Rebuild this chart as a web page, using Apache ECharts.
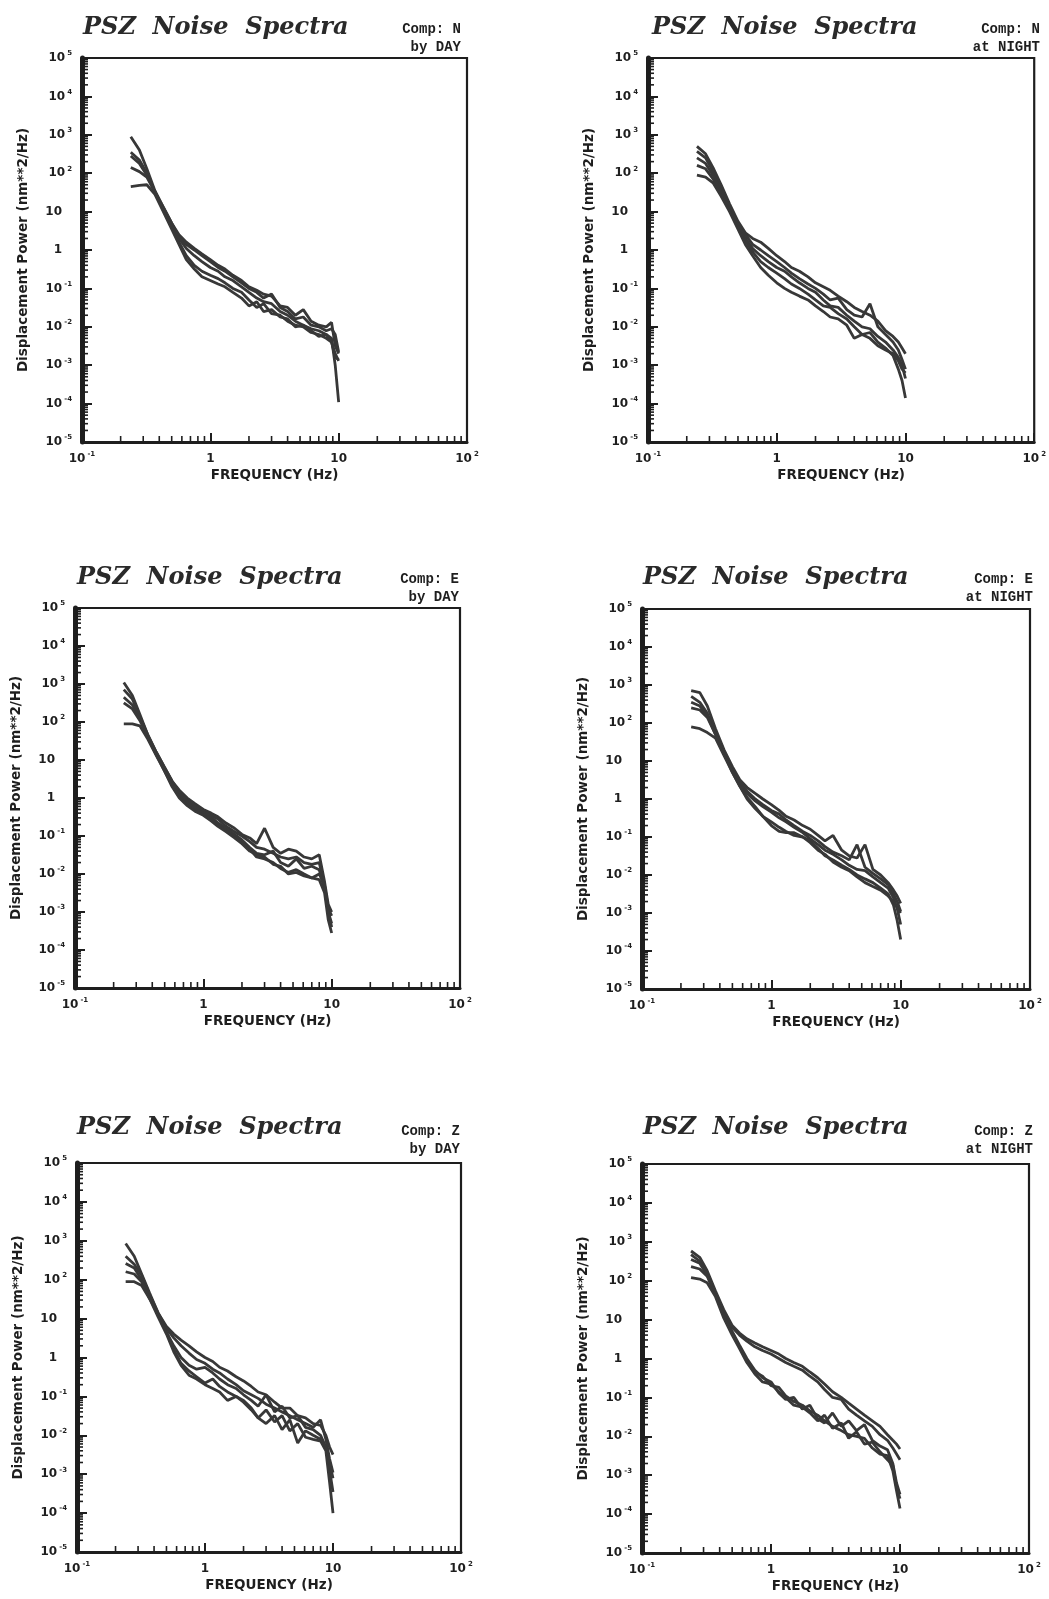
<!DOCTYPE html>
<html><head><meta charset="utf-8">
<script src="https://cdn.jsdelivr.net/npm/echarts@6/dist/echarts.min.js"></script>
<style>html,body{margin:0;padding:0;background:#fff}#c{width:1049px;height:1599px}</style>
</head><body><div id="c"></div>
<script>
// ---------------- DATA ----------------
const freq = [0.24, 0.28, 0.32, 0.37, 0.43, 0.5, 0.57, 0.65, 0.75, 0.86, 1.0, 1.15, 1.3, 1.5, 1.75, 2.0, 2.3, 2.6, 3.0, 3.5, 4.0, 4.6, 5.3, 6.1, 7.0, 8.0, 8.8, 9.4, 10];

const nDay = [
  [8.9e2,4e2,1.3e2,35,13,5,2.5,1.6,1.1,7.9e-1,5.6e-1,4e-1,3.2e-1,2.2e-1,1.6e-1,1.1e-1,8.9e-2,7.1e-2,6.3e-2,3.5e-2,3.2e-2,2e-2,2.8e-2,1.4e-2,1.1e-2,1e-2,1.3e-2,3.2e-3,2e-3],
  [3.5e2,2.2e2,1e2,32,13,5,2.2,1.4,1,7.1e-1,5e-1,3.5e-1,2.8e-1,2e-1,1.4e-1,1e-1,7.9e-2,5.6e-2,7.1e-2,3.2e-2,2.5e-2,1.6e-2,1.8e-2,1.1e-2,1e-2,7.9e-3,8.9e-3,6.3e-3,2.2e-3],
  [2.8e2,1.8e2,89,32,11,4.5,2,1.1,7.1e-1,5e-1,3.5e-1,2.8e-1,2e-1,1.6e-1,1.1e-1,7.9e-2,5.6e-2,4.5e-2,4e-2,2.5e-2,2e-2,1.4e-2,1.1e-2,8.9e-3,7.9e-3,6.3e-3,5e-3,1e-3,1.1e-4],
  [1.4e2,1.1e2,79,32,11,4,1.6,7.1e-1,4e-1,2.8e-1,2.2e-1,1.8e-1,1.4e-1,1e-1,7.9e-2,5e-2,3.2e-2,4e-2,2.2e-2,2e-2,1.4e-2,1.1e-2,1e-2,7.1e-3,6.3e-3,5e-3,4e-3,2e-3,1.3e-3],
  [45,48,50,28,10,3.5,1.4,5.6e-1,3.2e-1,2e-1,1.6e-1,1.3e-1,1.1e-1,7.9e-2,5.6e-2,3.5e-2,4.5e-2,2.5e-2,2.8e-2,1.8e-2,1.6e-2,1e-2,1.1e-2,7.9e-3,5.6e-3,6.3e-3,4e-3,1.6e-3,1.4e-3]
];
const nNight = [
  [5e2,3.2e2,1.4e2,50,16,5.6,2.8,2,1.6,1.1,7.1e-1,5e-1,3.5e-1,2.8e-1,2e-1,1.4e-1,1.1e-1,8.9e-2,6.3e-2,4.5e-2,3.2e-2,2.5e-2,2e-2,1.4e-2,7.9e-3,5.6e-3,4e-3,2.8e-3,2e-3],
  [3.7e2,2.5e2,1.1e2,45,14,5,2.5,1.4,1,7.1e-1,5e-1,3.5e-1,2.5e-1,1.8e-1,1.3e-1,1e-1,7.1e-2,5e-2,5.6e-2,2.8e-2,2e-2,1.8e-2,4e-2,1e-2,6.3e-3,4e-3,2.5e-3,1.4e-3,7.9e-4],
  [2.5e2,1.8e2,89,35,13,4.5,2,1.1,7.1e-1,5e-1,3.5e-1,2.8e-1,2e-1,1.4e-1,1e-1,7.9e-2,5e-2,3.5e-2,3.2e-2,2e-2,1.4e-2,1e-2,8.9e-3,5.6e-3,4e-3,2.5e-3,1.6e-3,1e-3,4.5e-4],
  [1.6e2,1.3e2,71,32,11,4,1.8,8.9e-1,5e-1,3.5e-1,2.5e-1,1.8e-1,1.3e-1,1e-1,7.1e-2,5e-2,3.5e-2,3.2e-2,2.2e-2,1.6e-2,1e-2,6.3e-3,7.1e-3,4e-3,2.8e-3,1.8e-3,7.9e-4,4e-4,1.4e-4],
  [89,79,56,25,10,3.5,1.4,7.1e-1,3.5e-1,2.2e-1,1.4e-1,1e-1,7.9e-2,6.3e-2,5e-2,3.5e-2,2.5e-2,1.8e-2,1.6e-2,1.1e-2,5e-3,6.3e-3,5e-3,3.2e-3,2.5e-3,2e-3,1.3e-3,7.9e-4,6.3e-4]
];
const eDay = [
  [1.1e3,5e2,1.6e2,45,16,6.3,2.8,1.6,1,7.1e-1,5e-1,4e-1,3.2e-1,2.2e-1,1.6e-1,1.1e-1,8.9e-2,6.3e-2,1.6e-1,5e-2,3.5e-2,4.5e-2,4e-2,2.8e-2,2.5e-2,3.2e-2,6.3e-3,1.6e-3,1e-3],
  [7.1e2,4e2,1.4e2,45,16,6.3,2.8,1.4,8.9e-1,6.3e-1,4.5e-1,3.5e-1,2.8e-1,1.8e-1,1.3e-1,1e-1,7.1e-2,5e-2,4.5e-2,3.5e-2,2.8e-2,2.5e-2,2.8e-2,2e-2,1.8e-2,2e-2,5e-3,1.3e-3,7.9e-4],
  [4.5e2,2.8e2,1.3e2,40,14,5.6,2.5,1.3,7.9e-1,5.6e-1,4.5e-1,3.2e-1,2.2e-1,1.6e-1,1.1e-1,7.9e-2,5e-2,3.5e-2,3.2e-2,4e-2,2e-2,1.6e-2,2.5e-2,1.4e-2,1.6e-2,1.3e-2,4e-3,1e-3,4e-4],
  [3.2e2,2.2e2,1.1e2,40,14,5,2.2,1.1,7.1e-1,5e-1,4e-1,2.8e-1,2e-1,1.4e-1,1e-1,7.1e-2,4.5e-2,2.8e-2,2.5e-2,2e-2,1.4e-2,1.1e-2,1.3e-2,1e-2,7.9e-3,7.1e-3,3.2e-3,6.3e-4,2.8e-4],
  [89,89,79,35,13,5,2,1,6.3e-1,4.5e-1,3.5e-1,2.5e-1,1.8e-1,1.3e-1,8.9e-2,6.3e-2,4e-2,3.2e-2,2.8e-2,1.8e-2,1.6e-2,1e-2,1.1e-2,8.9e-3,7.9e-3,1e-2,5e-3,1e-3,5e-4]
];
const eNight = [
  [7.1e2,6.3e2,2.8e2,71,20,7.1,3.2,2,1.4,1,7.1e-1,5e-1,3.5e-1,2.8e-1,2e-1,1.6e-1,1.1e-1,7.9e-2,1.1e-1,4.5e-2,3.2e-2,2.8e-2,6.3e-2,1.4e-2,1e-2,6.3e-3,4e-3,2.8e-3,1.8e-3],
  [5e2,3.5e2,1.8e2,56,18,6.3,2.8,1.6,1,7.1e-1,5e-1,4e-1,2.8e-1,2e-1,1.4e-1,1.1e-1,7.9e-2,5.6e-2,4e-2,3.2e-2,2.5e-2,6.3e-2,1.6e-2,1.1e-2,7.9e-3,5.6e-3,3.2e-3,2e-3,1.1e-3],
  [3.5e2,2.8e2,1.6e2,50,16,5.6,2.5,1.4,8.9e-1,6.3e-1,4.5e-1,3.2e-1,2.5e-1,1.8e-1,1.3e-1,8.9e-2,6.3e-2,4.5e-2,3.5e-2,2.5e-2,1.8e-2,1.4e-2,1.3e-2,8.9e-3,6.3e-3,4.5e-3,2.5e-3,1.3e-3,5e-4],
  [2.5e2,2.2e2,1.4e2,50,16,5,2.2,1.1,6.3e-1,3.5e-1,2.5e-1,1.8e-1,1.4e-1,1.1e-1,1e-1,7.9e-2,5e-2,3.2e-2,2.5e-2,1.8e-2,1.4e-2,1e-2,7.9e-3,6.3e-3,4.5e-3,3.2e-3,1.6e-3,6.3e-4,2e-4],
  [79,71,56,40,14,5,2.2,1,5.6e-1,3.5e-1,2e-1,1.4e-1,1.3e-1,1.3e-1,1e-1,7.1e-2,4.5e-2,3.5e-2,2.2e-2,1.6e-2,1.3e-2,8.9e-3,6.3e-3,5e-3,4e-3,2.8e-3,2e-3,1.4e-3,1e-3]
];
const zDay = [
  [8.5e2,4e2,1.4e2,45,14,6.3,4,2.8,2,1.4,1,7.9e-1,5.6e-1,4.5e-1,3.2e-1,2.5e-1,1.8e-1,1.3e-1,1.1e-1,7.1e-2,5e-2,5e-2,3.2e-2,2.8e-2,2e-2,1.8e-2,1e-2,5e-3,3.2e-3],
  [4e2,2.5e2,1.3e2,40,14,5.6,3.2,2,1.3,8.9e-1,7.1e-1,5e-1,4e-1,2.8e-1,2e-1,1.4e-1,1.1e-1,8.9e-2,6.3e-2,5e-2,4e-2,3.2e-2,2.5e-2,2e-2,1.6e-2,2.5e-2,7.9e-3,2.5e-3,1.1e-3],
  [2.6e2,2e2,1e2,35,13,4.5,2,1,6.3e-1,5e-1,5.6e-1,4e-1,2.8e-1,2e-1,1.6e-1,1.1e-1,7.9e-2,5.6e-2,1.1e-1,4e-2,5.6e-2,2.8e-2,3.2e-2,1.6e-2,1.4e-2,1e-2,5e-3,1.3e-3,3.5e-4],
  [1.6e2,1.4e2,89,32,13,4.5,1.6,7.1e-1,4.5e-1,3.2e-1,2.2e-1,2.8e-1,1.8e-1,1.3e-1,1e-1,7.9e-2,5e-2,2.8e-2,4.5e-2,2.2e-2,3.2e-2,1.3e-2,2e-2,8.9e-3,7.9e-3,7.1e-3,4e-3,6.3e-4,1e-4],
  [89,89,71,32,11,4,1.4,6.3e-1,3.5e-1,2.8e-1,2e-1,1.6e-1,1.3e-1,7.9e-2,1e-1,7.1e-2,4.5e-2,2.8e-2,2e-2,3.2e-2,1.4e-2,2.5e-2,6.3e-3,1.3e-2,1e-2,7.9e-3,5e-3,2e-3,7.9e-4]
];
const zNight = [
  [5.8e2,4e2,1.8e2,56,18,7.1,4.5,3.2,2.5,2,1.6,1.3,1,7.9e-1,6.3e-1,4.5e-1,3.2e-1,2.2e-1,1.4e-1,1e-1,7.1e-2,5e-2,3.5e-2,2.5e-2,1.8e-2,1.1e-2,7.9e-3,6.3e-3,4.7e-3],
  [4.7e2,3.2e2,1.6e2,50,16,6.3,4,2.8,2,1.6,1.3,1,7.9e-1,6.3e-1,5e-1,3.5e-1,2.5e-1,1.6e-1,1e-1,8.9e-2,5e-2,3.5e-2,2.5e-2,1.8e-2,1.1e-2,7.9e-3,5e-3,3.5e-3,2.5e-3],
  [3.5e2,2.8e2,1.4e2,45,13,5,2.2,1,5e-1,3.2e-1,2.5e-1,1.3e-1,8.9e-2,1e-1,5e-2,6.3e-2,2.8e-2,2.2e-2,4e-2,1.8e-2,2.5e-2,1.4e-2,2e-2,7.9e-3,5.6e-3,4.5e-3,2e-3,6.3e-4,3.2e-4],
  [2.3e2,2e2,1.3e2,45,13,4.5,2,8.9e-1,4.5e-1,3.5e-1,2e-1,1.8e-1,1.1e-1,7.9e-2,6.3e-2,4.5e-2,3.5e-2,2.5e-2,1.8e-2,1.4e-2,1.1e-2,1e-2,8.9e-3,5e-3,3.5e-3,3.2e-3,1.3e-3,4e-4,1.4e-4],
  [1.2e2,1.1e2,89,40,11,4,1.8,7.9e-1,4e-1,2.5e-1,2.2e-1,1.4e-1,1e-1,6.3e-2,5.6e-2,4e-2,2.5e-2,3.5e-2,1.6e-2,2.2e-2,8.9e-3,1.3e-2,6.3e-3,7.1e-3,4e-3,2.5e-3,1.8e-3,5e-4,2.5e-4]
];

const titleText = 'PSZ  Noise  Spectra';
const compLabels = ['Comp: N\nby DAY', 'Comp: N\nat NIGHT', 'Comp: E\nby DAY', 'Comp: E\nat NIGHT', 'Comp: Z\nby DAY', 'Comp: Z\nat NIGHT'];
const xAxisName = 'FREQUENCY (Hz)';
const yAxisName = 'Displacement Power (nm**2/Hz)';
const minorMult = [2, 3, 4, 5, 6, 7, 8, 9];
const xDecades = [0.1, 1, 10];
const yDecades = [1e-5, 1e-4, 1e-3, 1e-2, 1e-1, 1, 10, 1e2, 1e3, 1e4];

// ---------------- LAYOUT ----------------
const panelData = [nDay, nNight, eDay, eNight, zDay, zNight];
const layout = [
  {grid: {left: 82, top: 58, width: 385, height: 384}, tl: 83, tt: 16, cx: 461, cy: 20},
  {grid: {left: 648, top: 58, width: 390, height: 384}, tl: 652, tt: 16, cx: 1040, cy: 20},
  {grid: {left: 75, top: 608, width: 385, height: 380}, tl: 77, tt: 566, cx: 459, cy: 570},
  {grid: {left: 642, top: 609, width: 388, height: 380}, tl: 643, tt: 566, cx: 1033, cy: 570},
  {grid: {left: 77, top: 1163, width: 384, height: 389}, tl: 77, tt: 1116, cx: 460, cy: 1122},
  {grid: {left: 642, top: 1164, width: 387, height: 389}, tl: 643, tt: 1116, cx: 1033, cy: 1122}
];

const INK = '#1e1e1e';
const CURVE = '#383838';
const labelRich = {
  b: {fontFamily: 'DejaVu Sans', fontWeight: 'bold', fontSize: 12, color: INK, lineHeight: 16},
  s: {fontFamily: 'DejaVu Sans', fontWeight: 'bold', fontSize: 7, color: INK, verticalAlign: 'top', padding: [0, 0, 0, 2]},
  sp: {fontSize: 7, width: 10, color: 'rgba(0,0,0,0)'}
};
function powLabelY(v) {
  const e = Math.round(Math.log10(v));
  if (e === 0) return '{b|1}{sp| }';
  if (e === 1) return '{b|10}{sp| }';
  return '{b|10}{s|' + (e < 0 ? '-' : '') + Math.abs(e) + '}';
}
function powLabelX(v) {
  const e = Math.round(Math.log10(v));
  if (e === 0) return '{b|1}';
  if (e === 1) return '{b|10}';
  return '{b|10}{s|' + (e < 0 ? '-' : '') + Math.abs(e) + '}';
}

const xMinor = [];
xDecades.forEach(d => minorMult.forEach(m => xMinor.push(d * m)));
const yMinor = [];
yDecades.forEach(d => minorMult.forEach(m => yMinor.push(d * m)));

const grids = [], xAxes = [], yAxes = [], series = [], titles = [], graphics = [];
layout.forEach((L, i) => {
  grids.push(Object.assign({show: true, borderColor: INK, borderWidth: 2.2, backgroundColor: '#fff'}, L.grid));
  xAxes.push({
    type: 'log', logBase: 10, gridIndex: i, min: 0.1, max: 100, splitNumber: 3,
    name: xAxisName, nameLocation: 'middle', nameGap: 26,
    nameTextStyle: {fontFamily: 'DejaVu Sans', fontWeight: 'bold', fontSize: 13.5, color: INK, verticalAlign: 'top'},
    axisLine: {show: true, onZero: false, lineStyle: {color: INK, width: 3}},
    axisTick: {show: true, inside: true, length: 9, lineStyle: {color: INK, width: 2}},
    axisLabel: {margin: 9, formatter: powLabelX, rich: labelRich},
    splitLine: {show: false}
  });
  yAxes.push({
    type: 'log', logBase: 10, gridIndex: i, min: 1e-5, max: 1e5, splitNumber: 10, interval: 1,
    name: yAxisName, nameLocation: 'middle', nameGap: 52,
    nameTextStyle: {fontFamily: 'DejaVu Sans', fontWeight: 'bold', fontSize: 13.5, color: INK},
    axisLine: {show: true, onZero: false, lineStyle: {color: INK, width: 5}},
    axisTick: {show: true, inside: true, length: 10, interval: 0, lineStyle: {color: INK, width: 2}},
    axisLabel: {margin: 10, interval: 0, formatter: powLabelY, rich: labelRich},
    splitLine: {show: false}
  });
  panelData[i].forEach(curve => {
    series.push({
      type: 'line', xAxisIndex: i, yAxisIndex: i, showSymbol: false, silent: true,
      lineStyle: {color: CURVE, width: 2.8}, z: 3,
      data: freq.map((f, k) => [f, curve[k]])
    });
  });
  series.push({
    type: 'custom', xAxisIndex: i, yAxisIndex: i, silent: true, z: 4,
    data: xMinor.map(v => [v, 1e-5]),
    renderItem: (p, api) => {
      const c = api.coord([api.value(0), api.value(1)]);
      return {type: 'line', shape: {x1: c[0], y1: c[1], x2: c[0], y2: c[1] - 6}, style: {stroke: INK, lineWidth: 1.6}};
    }
  });
  series.push({
    type: 'custom', xAxisIndex: i, yAxisIndex: i, silent: true, z: 4,
    data: yMinor.map(v => [0.1, v]),
    renderItem: (p, api) => {
      const c = api.coord([api.value(0), api.value(1)]);
      return {type: 'line', shape: {x1: c[0], y1: c[1], x2: c[0] + 6, y2: c[1]}, style: {stroke: INK, lineWidth: 1.6}};
    }
  });
  titles.push({
    text: titleText, left: L.tl, top: L.tt, padding: 0,
    textStyle: {fontFamily: 'DejaVu Serif', fontStyle: 'italic', fontWeight: 'bold', fontSize: 24, color: '#2a2a2a'}
  });
  graphics.push({
    type: 'text', x: L.cx, y: L.cy, silent: true,
    style: {text: compLabels[i], align: 'right', verticalAlign: 'top', fontFamily: 'Liberation Mono', fontWeight: 'bold', fontSize: 14, lineHeight: 18, fill: INK}
  });
});

const chart = echarts.init(document.getElementById('c'), null, {renderer: 'canvas'});
chart.setOption({
  animation: false,
  backgroundColor: '#fff',
  title: titles,
  graphic: graphics,
  grid: grids,
  xAxis: xAxes,
  yAxis: yAxes,
  series: series
});
</script>
</body></html>
